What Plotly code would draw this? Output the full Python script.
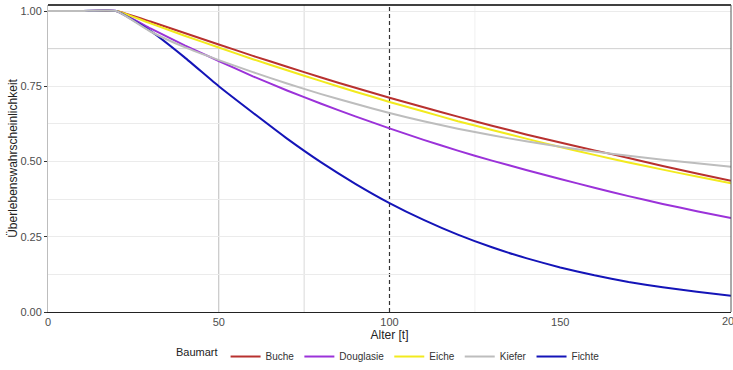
import plotly.graph_objects as go

ages = [0, 10, 20, 30, 40, 50, 60, 70, 80, 90, 100, 110, 120, 130, 140, 150, 160, 170, 180, 190, 200]

buche = [1.0, 1.0, 1.0, 0.965, 0.927, 0.889, 0.851, 0.815, 0.779, 0.745, 0.712, 0.680, 0.649, 0.619, 0.590, 0.563, 0.537, 0.512, 0.485, 0.460, 0.436]
douglasie = [1.0, 1.0, 1.0, 0.942, 0.886, 0.834, 0.783, 0.736, 0.692, 0.650, 0.610, 0.572, 0.536, 0.503, 0.472, 0.442, 0.413, 0.385, 0.359, 0.335, 0.312]
eiche = [1.0, 1.0, 1.0, 0.959, 0.918, 0.879, 0.840, 0.803, 0.767, 0.732, 0.698, 0.666, 0.634, 0.605, 0.576, 0.548, 0.522, 0.497, 0.473, 0.450, 0.428]
kiefer = [1.0, 1.0, 1.0, 0.932, 0.880, 0.837, 0.797, 0.759, 0.724, 0.692, 0.661, 0.634, 0.609, 0.587, 0.567, 0.549, 0.533, 0.519, 0.506, 0.494, 0.483]
fichte = [1.0, 1.0, 1.0, 0.934, 0.846, 0.750, 0.662, 0.576, 0.497, 0.426, 0.362, 0.306, 0.257, 0.215, 0.179, 0.148, 0.122, 0.100, 0.082, 0.067, 0.054]

y_ticks = [0.0, 0.25, 0.5, 0.75, 1.0]
y_ticklabels = ["0.00", "0.25", "0.50", "0.75", "1.00"]
x_ticks = [0, 50, 100, 150]
x_last_tick = 200

series = [
    ("Buche", buche, "#B8312F", 1),
    ("Douglasie", douglasie, "#9B32D9", 2),
    ("Eiche", eiche, "#F2EA1E", 3),
    ("Fichte", fichte, "#1414B8", 5),
    ("Kiefer", kiefer, "#BDBDBD", 4),
]

fig = go.Figure()
for name, vals, color, rank in series:
    fig.add_trace(go.Scatter(
        x=ages, y=vals, name=name, mode="lines",
        line=dict(color=color, width=2, shape="spline", smoothing=0.4),
        legendrank=rank,
    ))

# reference lines
for xv, col, dash in [(50, "#BDBDBD", "solid"), (75, "#D9D9D9", "solid"), (125, "#F0F0F0", "solid"), (100, "#333333", "4px,3px")]:
    fig.add_shape(type="line", xref="x", yref="paper", x0=xv, x1=xv, y0=0, y1=1,
                  line=dict(color=col, width=1.2 if dash != "solid" else 1, dash=dash), layer="below")
fig.add_shape(type="line", xref="paper", yref="y", x0=0, x1=1, y0=0.875, y1=0.875,
              line=dict(color="#D0D0D0", width=1), layer="below")
# panel frame top / right
fig.add_shape(type="line", xref="paper", yref="paper", x0=0, x1=1, y0=1, y1=1,
              line=dict(color="#000000", width=1.5))
fig.add_shape(type="line", xref="paper", yref="paper", x0=1, x1=1, y0=0, y1=1,
              line=dict(color="#555555", width=1))

# last x tick label (partly cut by the image edge in the reference)
fig.add_annotation(x=x_last_tick, y=0, xref="x", yref="paper", yanchor="top", xanchor="center",
                   text=str(x_last_tick), showarrow=False, yshift=-1,
                   font=dict(size=11, color="#4D4D4D"))

fig.update_layout(
    width=733, height=370,
    margin=dict(l=48, r=2, t=5, b=58, autoexpand=False),
    plot_bgcolor="white", paper_bgcolor="white",
    font=dict(family="Liberation Sans, Arial, sans-serif", size=11, color="#222222"),
    showlegend=True,
    legend=dict(
        orientation="h", x=0.5, xanchor="center", y=-0.145, yanchor="middle",
        title=dict(text="Baumart", side="left", font=dict(size=11, color="#222222")),
        font=dict(size=10, color="#333333"),
        itemwidth=30, tracegroupgap=0,
    ),
    xaxis=dict(
        range=[0, 200], tickvals=x_ticks, showgrid=False,
        showline=True, linecolor="#222222", linewidth=1,
        ticks="", tickfont=dict(size=11, color="#4D4D4D"),
        title=dict(text="Alter [t]", font=dict(size=12, color="#222222"), standoff=2),
        zeroline=False, automargin=False,
    ),
    yaxis=dict(
        range=[0, 1.02], tickvals=y_ticks, ticktext=y_ticklabels,
        showgrid=True, gridcolor="#EBEBEB", gridwidth=1,
        minor=dict(tickvals=[0.125, 0.375, 0.625], showgrid=True, gridcolor="#EBEBEB", gridwidth=1),
        showline=True, linecolor="#BDBDBD", linewidth=1,
        ticks="outside", ticklen=3, tickcolor="#333333",
        tickfont=dict(size=11, color="#4D4D4D"),
        title=dict(text="Überlebenswahrscheinlichkeit", font=dict(size=12, color="#222222"), standoff=0),
        zeroline=False, automargin=False,
    ),
)

fig.write_html(
    "out.html",
    config={"displayModeBar": False},
    post_script="document.body.style.margin='0';document.body.style.padding='0';document.body.style.overflow='hidden';",
)
